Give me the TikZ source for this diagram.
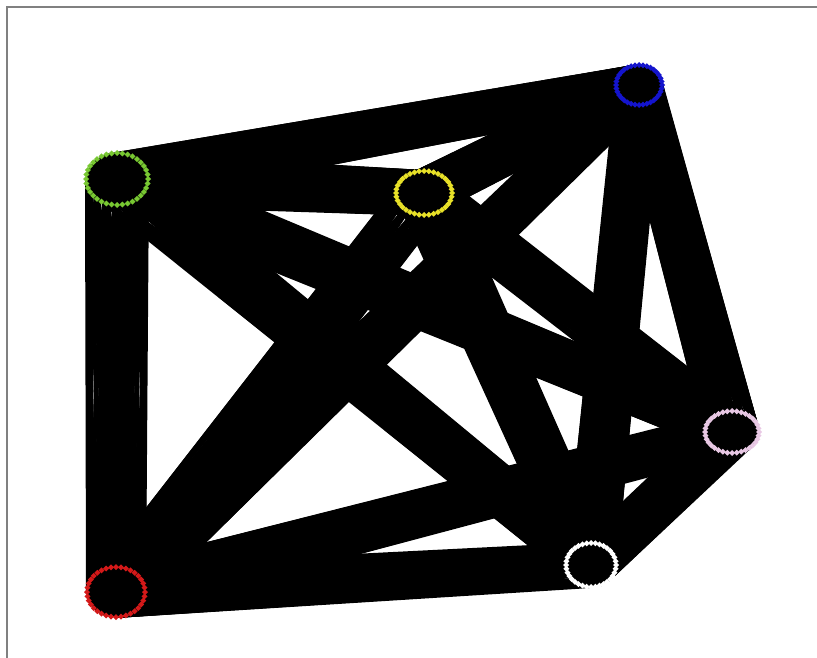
\documentclass[tikz,border=0pt]{standalone}
\usepackage{xcolor}
\usepackage{tikz}
\usetikzlibrary{calc}

\definecolor{grpgreen}{RGB}{120,200,50}
\definecolor{grpblue}{RGB}{20,20,205}
\definecolor{grpyellow}{RGB}{232,225,40}
\definecolor{grppink}{RGB}{232,200,228}
\definecolor{grpwhite}{RGB}{255,255,255}
\definecolor{grpred}{RGB}{212,25,25}

\tikzset{
  bundle/.style={black, line width=2pt},
  frameline/.style={gray, line width=1.2pt}
}

\begin{document}
\begin{tikzpicture}[x=1pt,y=-1pt]
		\useasboundingbox (0,0) rectangle (817,658);
		\draw[frameline] (7,658) -- (7,7) -- (817,7);
		
		% anchor points round each group
		\foreach \name/\cx/\cy/\rx/\ry in {gr/117/179/31/26, bl/639/85/23/20, ye/424/193/28/22, pk/732/432/27/21, wh/591/565/25/22, rd/116/592/29/25}{
			\coordinate (\name) at (\cx,\cy);
			\foreach \i in {1,...,16}
				\coordinate (\name-\i) at ({\cx+\rx*cos(22.5*\i)},{\cy+\ry*sin(22.5*\i)});
		}
		
		% every group linked to every other one
		\foreach \a/\b in {gr/bl, gr/ye, gr/pk, gr/wh, gr/rd, bl/ye, bl/pk, bl/wh, bl/rd, ye/pk, ye/wh, ye/rd, pk/wh, pk/rd, wh/rd}{
			\foreach \i in {1,...,16}
				\draw[bundle] \foreach \j in {1,...,16}{(\a-\i) -- (\b-\j)};
		}
		
		% the groups themselves
		\foreach \cx/\cy/\rx/\ry/\col in {117/179/31/26/grpgreen, 639/85/23/20/grpblue, 424/193/28/22/grpyellow, 732/432/27/21/grppink, 591/565/25/22/grpwhite, 116/592/29/25/grpred}{
			\fill[black] (\cx,\cy) ellipse ({\rx} and {\ry});
			\foreach \k in {1,...,36}
				\fill[\col] ({\cx+\rx*cos(10*\k)},{\cy+\ry*sin(10*\k)}) ++(0,-3) -- ++(3,3) -- ++(-3,3) -- ++(-3,-3) -- cycle;
		}
	\end{tikzpicture}
\end{document}
